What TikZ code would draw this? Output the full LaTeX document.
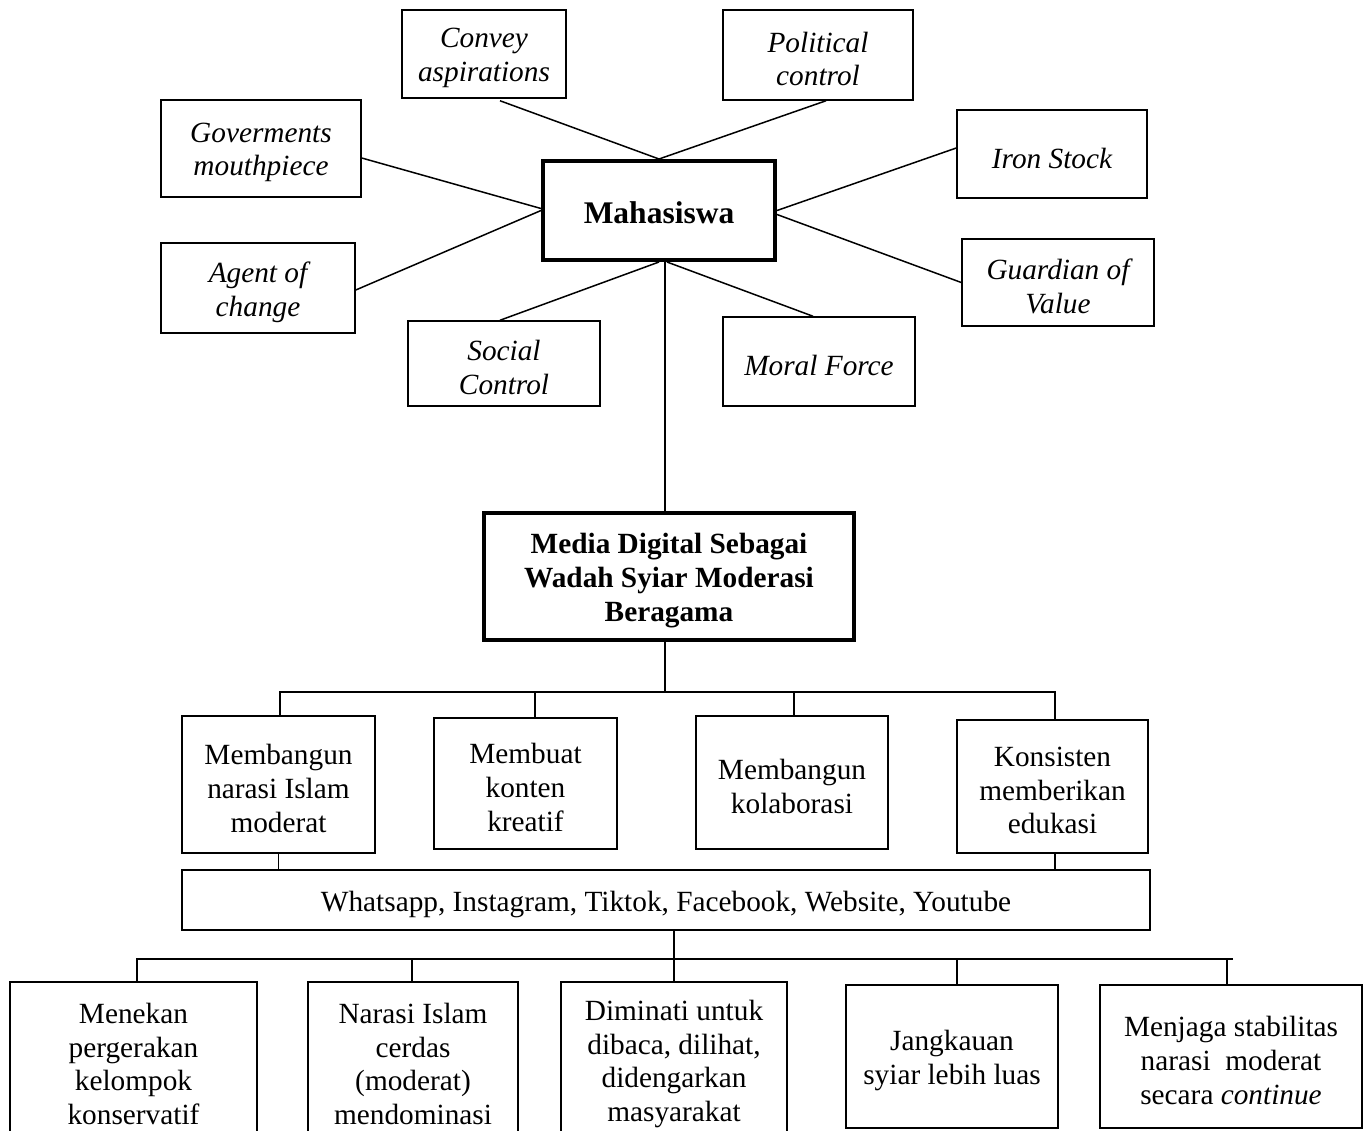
\documentclass[tikz,border=0pt]{standalone}
\usepackage{fontspec}
\setmainfont{Liberation Serif}
\usetikzlibrary{calc}
\tikzset{
  box/.style={draw=black, line width=1.5pt, inner sep=0pt},
  tbox/.style={draw=black, line width=4pt, inner sep=0pt},
  lbl/.style={align=center, inner sep=0pt, yshift=-4pt, font=\fontsize{29.3}{33.7}\selectfont},
  ilbl/.style={lbl, font=\fontsize{29.3}{33.7}\selectfont\itshape},
  blbl/.style={lbl, font=\fontsize{29.3}{33.7}\selectfont\bfseries},
  conn/.style={draw=black, line width=1.5pt}
}
\begin{document}
\begin{tikzpicture}[x=1pt,y=-1pt]
\useasboundingbox[fill=white] (0,0) rectangle (1364,1130);
% top ring
\node[box, minimum width=164, minimum height=88, label={[ilbl]center:{Convey\\aspirations}}] (conv) at (484,54) {};
\node[box, minimum width=190, minimum height=90, label={[ilbl]center:{Political\\control}}] (pol) at (818,55) {};
\node[box, minimum width=200, minimum height=97, label={[ilbl]center:{Goverments\\mouthpiece}}] (gov) at (261,148.5) {};
\node[box, minimum width=190, minimum height=88, label={[ilbl]center:{Iron Stock}}] (iron) at (1052,154) {};
\node[tbox, minimum width=232, minimum height=99, label={[blbl, yshift=2pt, font=\fontsize{31.5}{36}\selectfont\bfseries]center:{Mahasiswa}}] (maha) at (659,210.5) {};
\node[box, minimum width=194, minimum height=90, label={[ilbl]center:{Agent of\\change}}] (agent) at (258,288) {};
\node[box, minimum width=192, minimum height=87, label={[ilbl]center:{Guardian of\\Value}}] (guard) at (1058,282.5) {};
\node[box, minimum width=192, minimum height=85, label={[ilbl]center:{Social\\Control}}] (social) at (504,363.5) {};
\node[box, minimum width=192, minimum height=89, label={[ilbl]center:{Moral Force}}] (moral) at (819,361.5) {};
% middle
\node[tbox, minimum width=370, minimum height=127, label={[blbl]center:{Media Digital Sebagai\\Wadah Syiar Moderasi\\Beragama}}] (media) at (669,576.5) {};
\node[box, minimum width=193, minimum height=137, label={[lbl]center:{Membangun\\narasi Islam\\moderat}}] (m1) at (278.5,784.5) {};
\node[box, minimum width=183, minimum height=131, label={[lbl]center:{Membuat\\konten\\kreatif}}] (m2) at (525.5,783.5) {};
\node[box, minimum width=192, minimum height=133, label={[lbl]center:{Membangun\\kolaborasi}}] (m3) at (792,782.5) {};
\node[box, minimum width=191, minimum height=133, label={[lbl]center:{Konsisten\\memberikan\\edukasi}}] (m4) at (1052.5,786.5) {};
\node[box, minimum width=968, minimum height=60, label={[lbl]center:{Whatsapp, Instagram, Tiktok, Facebook, Website, Youtube}}] (wa) at (666,900) {};
% bottom
\node[box, minimum width=247, minimum height=156, label={[lbl]center:{Menekan\\pergerakan\\kelompok\\konservatif}}] (b1) at (133.5,1060) {};
\node[box, minimum width=210, minimum height=156, label={[lbl]center:{Narasi Islam\\cerdas\\(moderat)\\mendominasi}}] (b2) at (413,1060) {};
\node[box, minimum width=226, minimum height=156, label={[lbl]center:{Diminati untuk\\dibaca, dilihat,\\didengarkan\\masyarakat}}] (b3) at (674,1060) {};
\node[box, minimum width=212, minimum height=143, label={[lbl]center:{Jangkauan\\syiar lebih luas}}] (b4) at (952,1056.5) {};
\node[box, minimum width=262, minimum height=143, label={[lbl]center:{Menjaga stabilitas\\narasi\ \ moderat\\secara \textit{continue}}}] (b5) at (1231,1056.5) {};
% connectors of the ring
\draw[conn] ($(conv.south)+(16,2)$) -- (maha.north);
\draw[conn] ($(pol.south)+(8,0)$) -- (maha.north);
\draw[conn] ($(gov.east)+(0,9.5)$) -- ($(maha.west)+(0,-2)$);
\draw[conn] ($(agent.east)+(0,2)$) -- (maha.west);
\draw[conn] (maha.east) -- ($(iron.west)+(0,-6)$);
\draw[conn] ($(maha.east)+(0,4)$) -- (guard.west);
\draw[conn] ($(social.north)+(-4,0)$) -- (maha.south);
\draw[conn] ($(moral.north)+(-6,0)$) -- ($(maha.south)+(8,0)$);
\draw[conn] ($(maha.south)+(6,0)$) -- ($(media.north)+(-4,0)$);
% middle tree
\coordinate (j1) at ($(media.south)+(-4,50)$);
\draw[conn] ($(media.south)+(-4,0)$) -- (j1);
\draw[conn] ($(m1.north)+(1.5,0)$) -- ($(m1.north |- j1)+(1.5,0)$) -- ($(m4.north |- j1)+(2.5,0)$) -- ($(m4.north)+(2.5,0)$);
\draw[conn] ($(m2.north)+(9.5,0)$) -- ($(m2.north |- j1)+(9.5,0)$);
\draw[conn] ($(m3.north)+(2,0)$) -- ($(m3.north |- j1)+(2,0)$);
\draw[conn] (m1.south) -- (m1.south |- wa.north);
\draw[conn] ($(m4.south)+(2.5,0)$) -- ($(m4.south |- wa.north)+(2.5,0)$);
% bottom tree
\coordinate (j2) at ($(wa.south)+(8,28)$);
\draw[conn] ($(wa.south)+(8,0)$) -- (b3.north);
\draw[conn] ($(b1.north)+(3.5,0)$) -- ($(b1.north |- j2)+(3.5,0)$) -- ($(b5.north |- j2)+(2,0)$);
\draw[conn] ($(b2.north)+(-1,0)$) -- ($(b2.north |- j2)+(-1,0)$);
\draw[conn] ($(b4.north)+(5,0)$) -- ($(b4.north |- j2)+(5,0)$);
\draw[conn] ($(b5.north)+(-4,0)$) -- ($(b5.north |- j2)+(-4,0)$);
\end{tikzpicture}
\end{document}
